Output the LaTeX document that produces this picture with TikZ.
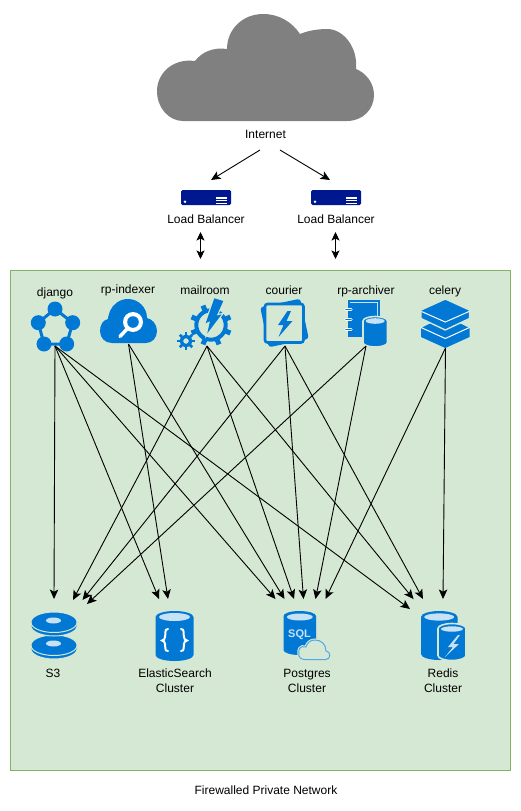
\documentclass[tikz,border=0pt]{standalone}
\usepackage{fontspec}
\setmainfont{Liberation Sans}
\usetikzlibrary{arrows.meta}
\definecolor{azure}{HTML}{0078D4}
\definecolor{azlight}{HTML}{C8E2F5}
\definecolor{azsky}{HTML}{50A8E6}
\definecolor{navy}{HTML}{00188F}
\definecolor{zonefill}{HTML}{D5E8D4}
\definecolor{zoneline}{HTML}{82B366}
\definecolor{cloudgray}{HTML}{808080}
\tikzset{
  lbl/.style={font=\fontsize{12}{15}\selectfont,align=center,text=black,inner sep=0pt},
  iconbox/.style={inner sep=0pt,outer sep=0pt,draw=none,fill=none},
  link/.style={draw=black,line width=0.9pt,-{Stealth[length=9.5pt,width=8.5pt,inset=2.2pt]}},
  dlink/.style={draw=black,line width=0.9pt,{Stealth[length=8.5pt,width=8pt,inset=2pt]}-{Stealth[length=8.5pt,width=8pt,inset=2pt]}},
  halo/.style={draw=zonefill,line width=1.6pt,fill=azure}
}
% x-left, x-right, y-top, y-bottom, ry  (y axis points down)
\newcommand{\cylpath}[5]{(#1,#3+#5) arc[start angle=180,end angle=360,x radius={(#2-#1)/2},y radius=#5]
     -- (#2,#4-#5) arc[start angle=0,end angle=180,x radius={(#2-#1)/2},y radius=#5] -- cycle}
\begin{document}
\begin{tikzpicture}[x=1pt,y=-1pt]
\useasboundingbox (0,0) rectangle (521,811);
\fill[white] (0,0) rectangle (521,811);

% private network zone
\node[draw=zoneline,fill=zonefill,line width=1pt,minimum width=500pt,minimum height=500pt,inner sep=0pt] (zone) at (260.5,520.5) {};
\node[lbl] (zonelabel) at (266,790) {Firewalled Private Network};

% internet cloud
\fill[cloudgray] (183,121) -- (347,121)
  .. controls (363,121) and (374,109) .. (374,95)
  .. controls (374,83) and (366,73) .. (356,69)
  .. controls (358,48) and (344,29) .. (327,29)
  .. controls (317,29) and (307,31) .. (300,34)
  .. controls (292,22) and (279,14) .. (263,14)
  .. controls (243,14) and (227,29) .. (227,49)
  .. controls (213,47) and (202,52) .. (195,61)
  .. controls (172,58) and (157,74) .. (157,91)
  .. controls (157,108) and (169,121) .. (183,121) -- cycle;
\node[iconbox,minimum width=217pt,minimum height=107pt] (cloud) at (265.5,67.5) {};
\node[lbl] (internet) at (265.5,134) {Internet};

% load balancers
\foreach \n/\x in {lbA/181,lbB/311}{
  \node[iconbox,minimum width=50pt,minimum height=15pt] (\n) at (\x+25,197.5) {};
  \fill[navy,rounded corners=1.5pt] (\x,190) rectangle (\x+50,205);
  \fill[white] (\x+4,201.8) circle (1.4);
  \foreach \yy in {198,200.6,203.2}{\fill[white] (\x+35,\yy-.55) rectangle (\x+46,\yy+.55);}
}
\node[lbl] (lbAlabel) at (206,219) {Load Balancer};
\node[lbl] (lbBlabel) at (336,219) {Load Balancer};

% service labels
\node[lbl] (djangolabel) at (55,293) {django};
\node[lbl] (indexerlabel) at (128,290) {rp-indexer};
\node[lbl] (mailroomlabel) at (205,290) {mailroom};
\node[lbl] (courierlabel) at (284,290) {courier};
\node[lbl] (archiverlabel) at (366,291) {rp-archiver};
\node[lbl] (celerylabel) at (445,291) {celery};

% --- django icon
\node[iconbox,minimum width=48pt,minimum height=46pt] (django) at (55,323) {};
\draw[azure,line width=3pt] (55,309) -- (72.7,322.7) -- (66.7,344) -- (44,344) -- (38.3,322.7) -- cycle;
\foreach \p in {(55,309),(72.7,322.7),(66.7,344),(44,344),(38.3,322.7)}{\fill[azure] \p circle (7.5);}

% --- rp-indexer icon
\node[iconbox,minimum width=57pt,minimum height=44pt] (indexer) at (128.5,322) {};
\fill[azure] (112,343) -- (146,343)
  .. controls (152,343) and (157,338) .. (157,331)
  .. controls (157,324) and (152,319) .. (147,318)
  .. controls (147,307) and (138,299) .. (128,299)
  .. controls (120,299) and (113,304) .. (110,311)
  .. controls (108,317) and (108,318) .. (108,319)
  .. controls (103,320) and (100,325) .. (100,331)
  .. controls (100,338) and (105,343) .. (112,343) -- cycle;
\draw[white,line width=3.5pt,line cap=round] (127.5,328.5) -- (120,336.5);
\fill[white] (133,322) circle (10);
\fill[azure] (133,322) circle (5.8);

% --- mailroom icon
\node[iconbox,minimum width=54pt,minimum height=46pt] (mailroom) at (207,323) {};
\draw[azure,line width=4pt] (211,325) circle (14.7);
\foreach \a in {0,45,...,315}{\draw[azure,line width=5pt] (211,325) ++(\a+22.5:15) -- ++(\a+22.5:6);}
\filldraw[azure,draw=zonefill,line width=2.4pt,line join=miter] (214.3,298.3) -- (223.3,301) -- (216.7,315.7) -- (221.7,314.3) -- (207.3,333.3) -- (210,321) -- (205.7,323.3) -- cycle;
\fill[azure] (214.3,298.3) -- (223.3,301) -- (216.7,315.7) -- (221.7,314.3) -- (207.3,333.3) -- (210,321) -- (205.7,323.3) -- cycle;
\draw[azure,line width=3.4pt] (186,341) circle (4.7);
\foreach \a in {0,45,...,315}{\draw[azure,line width=2.8pt] (186,341) ++(\a:5) -- ++(\a:3.8);}

% --- courier icon
\node[iconbox,minimum width=48pt,minimum height=48pt] (courier) at (285,322) {};
\fill[azure,rounded corners=3pt,rotate around={12:(284.5,323)}] (264,302.5) rectangle (305,343.5);
\draw[azure,fill=zonefill,line width=2.6pt,rounded corners=2.5pt] (265,304) rectangle (303.5,342.5);
\fill[azure] (287.5,311) -- (278,325) -- (283.5,325) -- (278.5,337) -- (292.5,321) -- (286.5,321) -- (291,311) -- cycle;

% --- rp-archiver icon
\node[iconbox,minimum width=44pt,minimum height=47pt] (archiver) at (366,322.5) {};
\fill[azure] (347.5,300) rectangle (379.5,337);
\draw[azlight,line width=1pt] (349.5,302.5) -- (377,302.5) -- (377,320);
\foreach \yy in {309.5,319.5,329.5}{
  \draw[white,line width=3.4pt,line cap=round] (346,\yy) -- (351,\yy);
  \draw[azure,line width=1.7pt,line cap=round] (346,\yy) -- (351,\yy);
}
\draw[halo] \cylpath{363}{387.5}{316.5}{347}{4.5};
\fill[azlight] (375.2,321) ellipse (9.5 and 2.8);

% --- celery icon
\node[iconbox,minimum width=49pt,minimum height=50pt] (celery) at (445.5,323) {};
\fill[azure] (421,328) -- (445.3,316) -- (469.5,328) -- (469.5,337) -- (445.3,348) -- (421,337) -- cycle;
\draw[white,line width=1pt] (421,327.5) -- (445.3,338.5) -- (469.5,327.5);
\filldraw[azure,draw=zonefill,line width=1.4pt,line join=round] (421,310) -- (445.3,299) -- (469.5,310) -- (469.5,318.5) -- (445.3,330) -- (421,318.5) -- cycle;
\draw[white,line width=1pt] (421.5,311.5) -- (445.3,322) -- (469,311.5);

% --- S3 icon
\node[iconbox,minimum width=46pt,minimum height=48pt] (sss) at (54,635.5) {};
\foreach \yy in {645,622}{
  \filldraw[azure,draw=zonefill,line width=1pt] (31,\yy) arc[start angle=180,end angle=360,x radius=23,y radius=10]
    -- (77,\yy+4) arc[start angle=0,end angle=180,x radius=23,y radius=10] -- cycle;
  \draw[zonefill,line width=1pt] (31,\yy+.5) arc[start angle=180,end angle=0,x radius=23,y radius=10];
  \fill[azlight] (53.5,\yy-1.5) ellipse (7.5 and 3);
}

% --- ElasticSearch icon
\node[iconbox,minimum width=38pt,minimum height=50pt] (es) at (174,636) {};
\fill[azure] \cylpath{155.5}{193.5}{611}{661}{6};
\fill[azlight] (174.5,617) ellipse (15.5 and 4);
\draw[white,line width=2pt,line cap=round] (168,629) .. controls (164,629) and (166,634) .. (165,637) .. controls (165,639) and (164,640) .. (162,640.5) .. controls (164,641) and (165,642) .. (165,644) .. controls (166,647) and (164,651) .. (168,651);
\draw[white,line width=2pt,line cap=round] (181,629) .. controls (185,629) and (183,634) .. (184,637) .. controls (184,639) and (185,640) .. (187,640.5) .. controls (185,641) and (184,642) .. (184,644) .. controls (183,647) and (185,651) .. (181,651);

% --- Postgres icon
\node[iconbox,minimum width=47pt,minimum height=49pt] (pg) at (306.5,635.5) {};
\fill[azure] \cylpath{283.5}{316}{611}{655}{5};
\fill[azlight] (299.8,617) ellipse (13 and 3.5);
\node[font=\bfseries\fontsize{11}{11}\selectfont,text=azlight,inner sep=0pt] (sql) at (299.5,634.5) {SQL};
\draw[zonefill,line width=3pt,fill=zonefill] (305,659.5) -- (326,659.5)
  .. controls (331,659.5) and (331,651) .. (326,651)
  .. controls (326,644) and (321,640) .. (315,640)
  .. controls (310,640) and (307,643) .. (306,647)
  .. controls (300,645) and (298,650) .. (299,653)
  .. controls (298,657) and (301,659.5) .. (305,659.5) -- cycle;
\draw[azsky,line width=1pt] (305,659.5) -- (326,659.5)
  .. controls (331,659.5) and (331,651) .. (326,651)
  .. controls (326,644) and (321,640) .. (315,640)
  .. controls (310,640) and (307,643) .. (306,647)
  .. controls (300,645) and (298,650) .. (299,653)
  .. controls (298,657) and (301,659.5) .. (305,659.5) -- cycle;

% --- Redis icon
\node[iconbox,minimum width=45pt,minimum height=49pt] (redis) at (443.5,635.5) {};
\fill[azure] \cylpath{421}{457.5}{611}{660}{6};
\fill[azlight] (439.2,617) ellipse (15 and 3.6);
\draw[halo] \cylpath{438}{466}{623.5}{660.5}{5};
\fill[azlight] (452,629) ellipse (11 and 2.7);
\fill[azlight] (458,635) -- (448,647) -- (453,647) -- (445,657) -- (459,644) -- (453.5,644) -- (460,635) -- cycle;

% bottom labels
\node[lbl] (ssslabel) at (53,673) {S3};
\node[lbl] (eslabel) at (175,680.5) {ElasticSearch\\Cluster};
\node[lbl] (pglabel) at (307,680.5) {Postgres\\Cluster};
\node[lbl] (redislabel) at (443,680.5) {Redis\\Cluster};

% connector end points
\coordinate (inL) at (260,150);
\coordinate (inR) at (280,150);
\coordinate (lbAin) at (211,180);
\coordinate (lbBin) at (330,180);
\coordinate (lbAbot) at (200.5,232);
\coordinate (zoneA) at (200.5,259);
\coordinate (lbBbot) at (335.5,232);
\coordinate (zoneB) at (335.5,259);

\coordinate (sssA) at (54,599);
\coordinate (sssB) at (73,600);
\coordinate (sssC) at (82.5,600);
\coordinate (sssD) at (87,604);
\coordinate (esA) at (159,599);
\coordinate (esB) at (168,599);
\coordinate (pgA) at (275.5,599);
\coordinate (pgB) at (284.5,599);
\coordinate (pgC) at (294,599);
\coordinate (pgD) at (303.5,599);
\coordinate (pgE) at (315.5,599);
\coordinate (pgF) at (325.5,599);
\coordinate (redisA) at (410,609);
\coordinate (redisB) at (413.5,599);
\coordinate (redisC) at (423,599);
\coordinate (redisD) at (443,599);

\draw[link] (inL) -- (lbAin);
\draw[link] (inR) -- (lbBin);
\draw[dlink] (lbAbot) -- (zoneA);
\draw[dlink] (lbBbot) -- (zoneB);

\draw[link] (django.south) -- (sssA);
\draw[link] (django.south) -- (esA);
\draw[link] (django.south) -- (pgA);
\draw[link] (django.south) -- (redisA);
\draw[link] (indexer.south) -- (esB);
\draw[link] (indexer.south) -- (pgB);
\draw[link] (mailroom.south) -- (sssB);
\draw[link] (mailroom.south) -- (pgC);
\draw[link] (mailroom.south) -- (redisB);
\draw[link] (courier.south) -- (sssC);
\draw[link] (courier.south) -- (pgD);
\draw[link] (courier.south) -- (redisC);
\draw[link] (archiver.south) -- (sssD);
\draw[link] (archiver.south) -- (pgE);
\draw[link] (celery.south) -- (pgF);
\draw[link] (celery.south) -- (redisD);
\end{tikzpicture}
\end{document}
